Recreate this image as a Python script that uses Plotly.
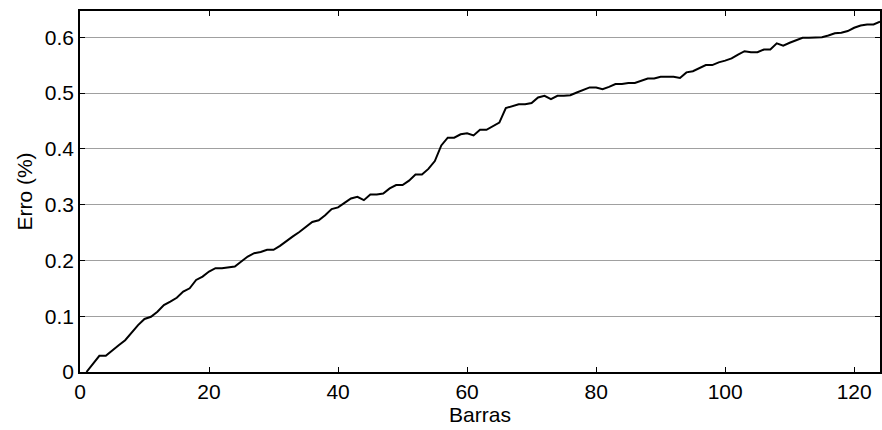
import plotly.graph_objects as go

# Erro percentual acumulado por barra
barras = list(range(1, 125))
erro = [
    0.000, 0.015, 0.029, 0.029, 0.039, 0.048, 0.057, 0.071, 0.084, 0.095,
    0.099, 0.108, 0.120, 0.126, 0.133, 0.144, 0.150, 0.165, 0.171, 0.180,
    0.186, 0.186, 0.187, 0.189, 0.198, 0.207, 0.213, 0.215, 0.219, 0.219,
    0.226, 0.235, 0.243, 0.251, 0.260, 0.269, 0.272, 0.281, 0.292, 0.295,
    0.303, 0.311, 0.314, 0.308, 0.318, 0.318, 0.320, 0.329, 0.335, 0.335,
    0.343, 0.354, 0.354, 0.364, 0.378, 0.406, 0.420, 0.420, 0.426, 0.428,
    0.424, 0.434, 0.434, 0.440, 0.447, 0.473, 0.477, 0.480, 0.480, 0.482,
    0.492, 0.495, 0.489, 0.495, 0.495, 0.496, 0.501, 0.505, 0.510, 0.510,
    0.507, 0.511, 0.516, 0.516, 0.518, 0.518, 0.522, 0.526, 0.526, 0.529,
    0.529, 0.529, 0.527, 0.537, 0.539, 0.545, 0.550, 0.550, 0.555, 0.558,
    0.562, 0.569, 0.575, 0.573, 0.573, 0.578, 0.578, 0.589, 0.585, 0.590,
    0.594, 0.599, 0.599, 0.600, 0.600, 0.603, 0.607, 0.608, 0.611, 0.617,
    0.621, 0.623, 0.623, 0.628,
]

x_ticks = [0, 20, 40, 60, 80, 100, 120]
y_ticks = [0, 0.1, 0.2, 0.3, 0.4, 0.5, 0.6]

font_family = "Liberation Sans, Arial, Helvetica, sans-serif"
tick_font = dict(family=font_family, size=21, color="black")
title_font = dict(family=font_family, size=21, color="black")

fig = go.Figure()
fig.add_trace(go.Scatter(
    x=barras, y=erro, mode="lines",
    line=dict(color="black", width=2),
    showlegend=False, hoverinfo="skip",
))

axis_common = dict(
    showline=True, linecolor="black", linewidth=1.5,
    mirror="ticks", ticks="inside", ticklen=5, tickwidth=1, tickcolor="black",
    zeroline=False,
    tickfont=tick_font,
)

fig.update_layout(
    width=882, height=430,
    margin=dict(l=80, r=0, t=11, b=58),
    paper_bgcolor="white", plot_bgcolor="white",
    font=dict(family=font_family, size=21, color="black"),
    xaxis=dict(
        range=[0, 124], tickvals=x_ticks, showgrid=False,
        title=dict(text="Barras", standoff=0, font=title_font),
        **axis_common,
    ),
    yaxis=dict(
        range=[0, 0.647], tickvals=y_ticks,
        ticktext=[f"{v:g}" for v in y_ticks],
        showgrid=True, gridcolor="#a0a0a0", gridwidth=1,
        title=dict(text="Erro (%)", standoff=6, font=title_font),
        **axis_common,
    ),
)

fig.write_html("out.html")
